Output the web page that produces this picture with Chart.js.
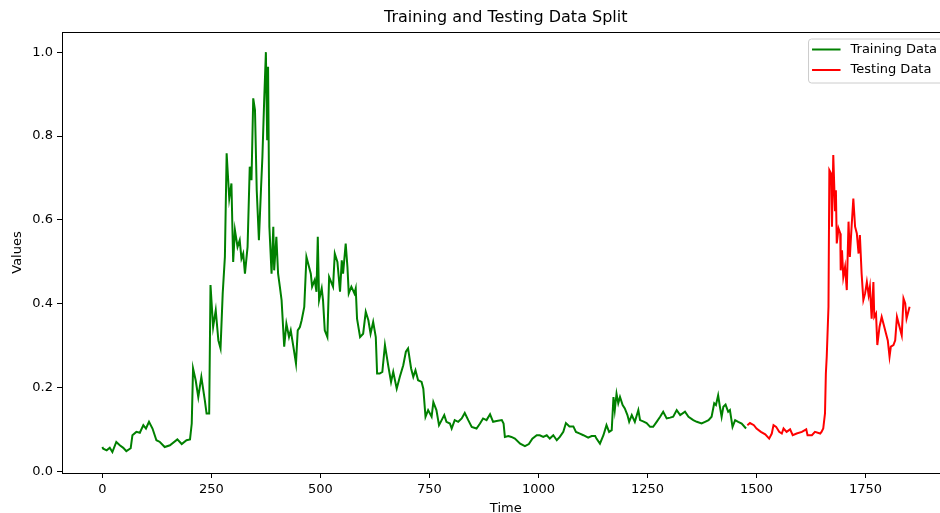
<!DOCTYPE html>
<html>
<head>
<meta charset="utf-8">
<title>Training and Testing Data Split</title>
<script src="https://cdn.jsdelivr.net/npm/chart.js@4.4.1/dist/chart.umd.min.js"></script>
<style>
html, body { margin: 0; padding: 0; background: #fff; overflow: hidden; }
#splitChart { display: block; }
</style>
</head>
<body>
<canvas id="splitChart" width="952" height="513"></canvas>
<script>
var chartTitle = "Training and Testing Data Split"
var seriesLabels = ["Training Data", "Testing Data"]
var xTickValues = [0, 250, 500, 750, 1000, 1250, 1500, 1750]
var yTickValues = [0, 0.2, 0.4, 0.6, 0.8, 1.0]

// values (time index -> scaled value)
var trainTime = [0, 2, 10, 17, 23, 32, 40, 48, 55, 65, 69, 78, 86, 94, 100, 107, 115, 124, 132, 143, 155, 172, 182, 193, 201, 205, 208, 214, 220, 227, 235, 239, 245, 248, 254, 260, 266, 271, 276, 281, 285, 291, 296, 300, 304, 310, 315, 319, 323, 327, 333, 338, 342, 346, 350, 354, 359, 364, 367, 371, 375, 378, 380, 383, 388, 392, 394, 399, 403, 407, 411, 417, 422, 428, 432, 438, 444, 448, 453, 457, 463, 468, 474, 478, 481, 487, 491, 494, 497, 503, 506, 510, 516, 520, 529, 533, 539, 545, 549, 552, 558, 562, 565, 571, 578, 581, 584, 591, 598, 604, 610, 615, 621, 627, 630, 636, 642, 648, 656, 662, 667, 675, 682, 690, 696, 701, 708, 713, 718, 724, 732, 736, 741, 747, 755, 759, 766, 772, 778, 784, 789, 797, 801, 808, 816, 824, 831, 839, 847, 858, 866, 873, 881, 889, 896, 904, 916, 920, 923, 931, 938, 946, 958, 969, 978, 986, 996, 1003, 1011, 1019, 1026, 1034, 1042, 1049, 1057, 1063, 1071, 1080, 1086, 1095, 1103, 1114, 1122, 1130, 1133, 1141, 1149, 1156, 1162, 1168, 1172, 1175, 1179, 1183, 1187, 1193, 1198, 1204, 1208, 1214, 1221, 1229, 1233, 1240, 1248, 1256, 1263, 1271, 1279, 1286, 1294, 1302, 1309, 1317, 1325, 1336, 1344, 1355, 1363, 1374, 1382, 1390, 1397, 1403, 1407, 1412, 1416, 1420, 1424, 1429, 1435, 1439, 1445, 1451, 1458, 1466, 1476]
var trainValues = [0.059, 0.055, 0.051, 0.057, 0.047, 0.071, 0.063, 0.057, 0.049, 0.056, 0.087, 0.095, 0.093, 0.111, 0.103, 0.119, 0.103, 0.075, 0.071, 0.059, 0.063, 0.077, 0.066, 0.075, 0.077, 0.115, 0.246, 0.218, 0.178, 0.226, 0.170, 0.139, 0.139, 0.445, 0.345, 0.385, 0.313, 0.294, 0.425, 0.512, 0.759, 0.651, 0.687, 0.500, 0.576, 0.536, 0.552, 0.508, 0.520, 0.472, 0.536, 0.727, 0.695, 0.890, 0.862, 0.671, 0.552, 0.679, 0.750, 0.882, 1.0, 0.790, 0.965, 0.584, 0.472, 0.584, 0.480, 0.560, 0.472, 0.441, 0.409, 0.298, 0.353, 0.321, 0.337, 0.298, 0.258, 0.337, 0.345, 0.361, 0.393, 0.512, 0.488, 0.472, 0.441, 0.457, 0.429, 0.560, 0.409, 0.437, 0.409, 0.337, 0.321, 0.464, 0.441, 0.520, 0.500, 0.429, 0.504, 0.472, 0.544, 0.488, 0.425, 0.441, 0.425, 0.437, 0.365, 0.321, 0.329, 0.381, 0.361, 0.329, 0.357, 0.321, 0.234, 0.234, 0.238, 0.302, 0.250, 0.214, 0.238, 0.198, 0.226, 0.254, 0.286, 0.294, 0.246, 0.226, 0.242, 0.218, 0.214, 0.198, 0.131, 0.147, 0.131, 0.166, 0.147, 0.111, 0.123, 0.135, 0.119, 0.115, 0.103, 0.123, 0.119, 0.127, 0.140, 0.123, 0.107, 0.103, 0.115, 0.127, 0.123, 0.137, 0.119, 0.121, 0.123, 0.115, 0.083, 0.085, 0.083, 0.079, 0.067, 0.061, 0.066, 0.079, 0.087, 0.087, 0.083, 0.087, 0.079, 0.087, 0.075, 0.083, 0.095, 0.116, 0.108, 0.108, 0.095, 0.091, 0.087, 0.081, 0.085, 0.085, 0.079, 0.067, 0.087, 0.111, 0.095, 0.099, 0.178, 0.147, 0.186, 0.163, 0.178, 0.159, 0.151, 0.135, 0.119, 0.135, 0.119, 0.147, 0.123, 0.120, 0.116, 0.107, 0.107, 0.119, 0.131, 0.143, 0.127, 0.129, 0.131, 0.147, 0.135, 0.143, 0.131, 0.123, 0.119, 0.115, 0.119, 0.123, 0.131, 0.163, 0.159, 0.182, 0.155, 0.131, 0.155, 0.160, 0.143, 0.147, 0.107, 0.123, 0.119, 0.115, 0.103]

var testTime = [1479, 1485, 1494, 1500, 1510, 1520, 1529, 1535, 1539, 1545, 1552, 1558, 1562, 1569, 1577, 1583, 1592, 1604, 1614, 1617, 1627, 1634, 1646, 1649, 1653, 1657, 1659, 1661, 1665, 1667, 1671, 1673, 1676, 1680, 1682, 1684, 1688, 1692, 1693, 1696, 1699, 1703, 1707, 1711, 1714, 1718, 1722, 1726, 1730, 1734, 1737, 1741, 1745, 1749, 1753, 1757, 1760, 1764, 1768, 1770, 1774, 1777, 1782, 1787, 1792, 1797, 1801, 1805, 1808, 1814, 1818, 1822, 1828, 1833, 1837, 1841, 1844, 1851]
var testValues = [0.111, 0.116, 0.111, 0.103, 0.095, 0.089, 0.079, 0.091, 0.111, 0.107, 0.095, 0.091, 0.103, 0.095, 0.101, 0.087, 0.091, 0.095, 0.101, 0.087, 0.087, 0.095, 0.091, 0.095, 0.103, 0.139, 0.234, 0.274, 0.393, 0.719, 0.711, 0.584, 0.755, 0.623, 0.671, 0.544, 0.580, 0.568, 0.480, 0.528, 0.464, 0.488, 0.433, 0.596, 0.512, 0.584, 0.651, 0.584, 0.568, 0.520, 0.564, 0.472, 0.409, 0.425, 0.452, 0.421, 0.441, 0.365, 0.452, 0.369, 0.377, 0.302, 0.345, 0.369, 0.349, 0.329, 0.313, 0.274, 0.298, 0.302, 0.313, 0.369, 0.345, 0.325, 0.413, 0.401, 0.365, 0.393]

var fontFamily = "'DejaVu Sans', sans-serif"

function toPoints(times, values) {
    return times.map((t, i) => ({ x: t, y: values[i] }))
}

// frame, title and legend box drawn the way matplotlib does it
var mplLook = {
    id: "mplLook",
    afterDraw(chart) {
        const ctx = chart.ctx
        const a = chart.chartArea
        ctx.save()
        ctx.strokeStyle = "#000"
        ctx.lineWidth = 1
        ctx.strokeRect(Math.round(a.left) + 0.5, Math.round(a.top) + 0.5, Math.round(a.right - a.left), Math.round(a.bottom - a.top))

        ctx.fillStyle = "#000"
        ctx.font = "16px " + fontFamily
        ctx.textAlign = "center"
        ctx.textBaseline = "middle"
        ctx.fillText(chartTitle, (a.left + a.right) / 2, 18)

        // legend, upper right
        ctx.font = "13px " + fontFamily
        const textW = Math.max(...chart.data.datasets.map(d => ctx.measureText(d.label).width))
        const boxRight = a.right - 6.5
        const boxTop = a.top + 6.5
        const textX = boxRight - 6 - textW
        const lineEnd = textX - 10
        const lineStart = lineEnd - 28.5
        const boxLeft = lineStart - 4
        ctx.beginPath()
        ctx.roundRect(boxLeft + 0.5, boxTop + 0.5, boxRight - boxLeft, 44, 3)
        ctx.fillStyle = "rgba(255,255,255,0.8)"
        ctx.fill()
        ctx.strokeStyle = "#cccccc"
        ctx.stroke()
        chart.data.datasets.forEach((d, i) => {
            const y = boxTop + 11 + i * 20.5
            ctx.strokeStyle = d.borderColor
            ctx.lineWidth = 2
            ctx.beginPath()
            ctx.moveTo(lineStart, y)
            ctx.lineTo(lineEnd, y)
            ctx.stroke()
            ctx.fillStyle = "#000"
            ctx.textAlign = "left"
            ctx.fillText(d.label, textX, y)
        })
        ctx.restore()
    }
}

var tickFont = { family: fontFamily, size: 13 }

var splitChart = new Chart(document.getElementById("splitChart").getContext("2d"), {
    type: "line",
    data: {
        datasets: [
            {
                label: seriesLabels[0],
                data: toPoints(trainTime, trainValues),
                borderColor: "#008000",
                borderWidth: 2,
                pointRadius: 0,
                fill: false,
                tension: 0,
            },
            {
                label: seriesLabels[1],
                data: toPoints(testTime, testValues),
                borderColor: "#ff0000",
                borderWidth: 2,
                pointRadius: 0,
                fill: false,
                tension: 0,
            },
        ],
    },
    options: {
        responsive: false,
        animation: false,
        devicePixelRatio: 1,
        layout: { padding: { top: 32, right: 2.5, left: 0, bottom: 0 } },
        plugins: {
            legend: { display: false },
            tooltip: { enabled: false },
            title: { display: false },
        },
        scales: {
            x: {
                type: "linear",
                min: -92.5,
                max: 1942.5,
                afterBuildTicks: (s) => { s.ticks = xTickValues.map(v => ({ value: v })) },
                afterFit: (s) => { s.height = 40 },
                border: { display: false },
                grid: { drawOnChartArea: false, drawTicks: true, tickLength: 5, color: "#000" },
                ticks: { font: tickFont, color: "#000", padding: 4, maxRotation: 0, autoSkip: false, callback: (v) => String(v) },
                title: { display: true, text: "Time", font: tickFont, color: "#000", padding: { top: 0, bottom: -3 } },
            },
            y: {
                min: -0.003,
                max: 1.048,
                afterBuildTicks: (s) => { s.ticks = yTickValues.map(v => ({ value: v })) },
                afterFit: (s) => { s.width = 62 },
                border: { display: false },
                grid: { drawOnChartArea: false, drawTicks: true, tickLength: 5, color: "#000" },
                ticks: { font: tickFont, color: "#000", padding: 4, callback: (v) => v.toFixed(1) },
                title: { display: true, text: "Values", font: tickFont, color: "#000", padding: { top: 10, bottom: 0 } },
            },
        },
    },
    plugins: [mplLook],
})
</script>
</body>
</html>
